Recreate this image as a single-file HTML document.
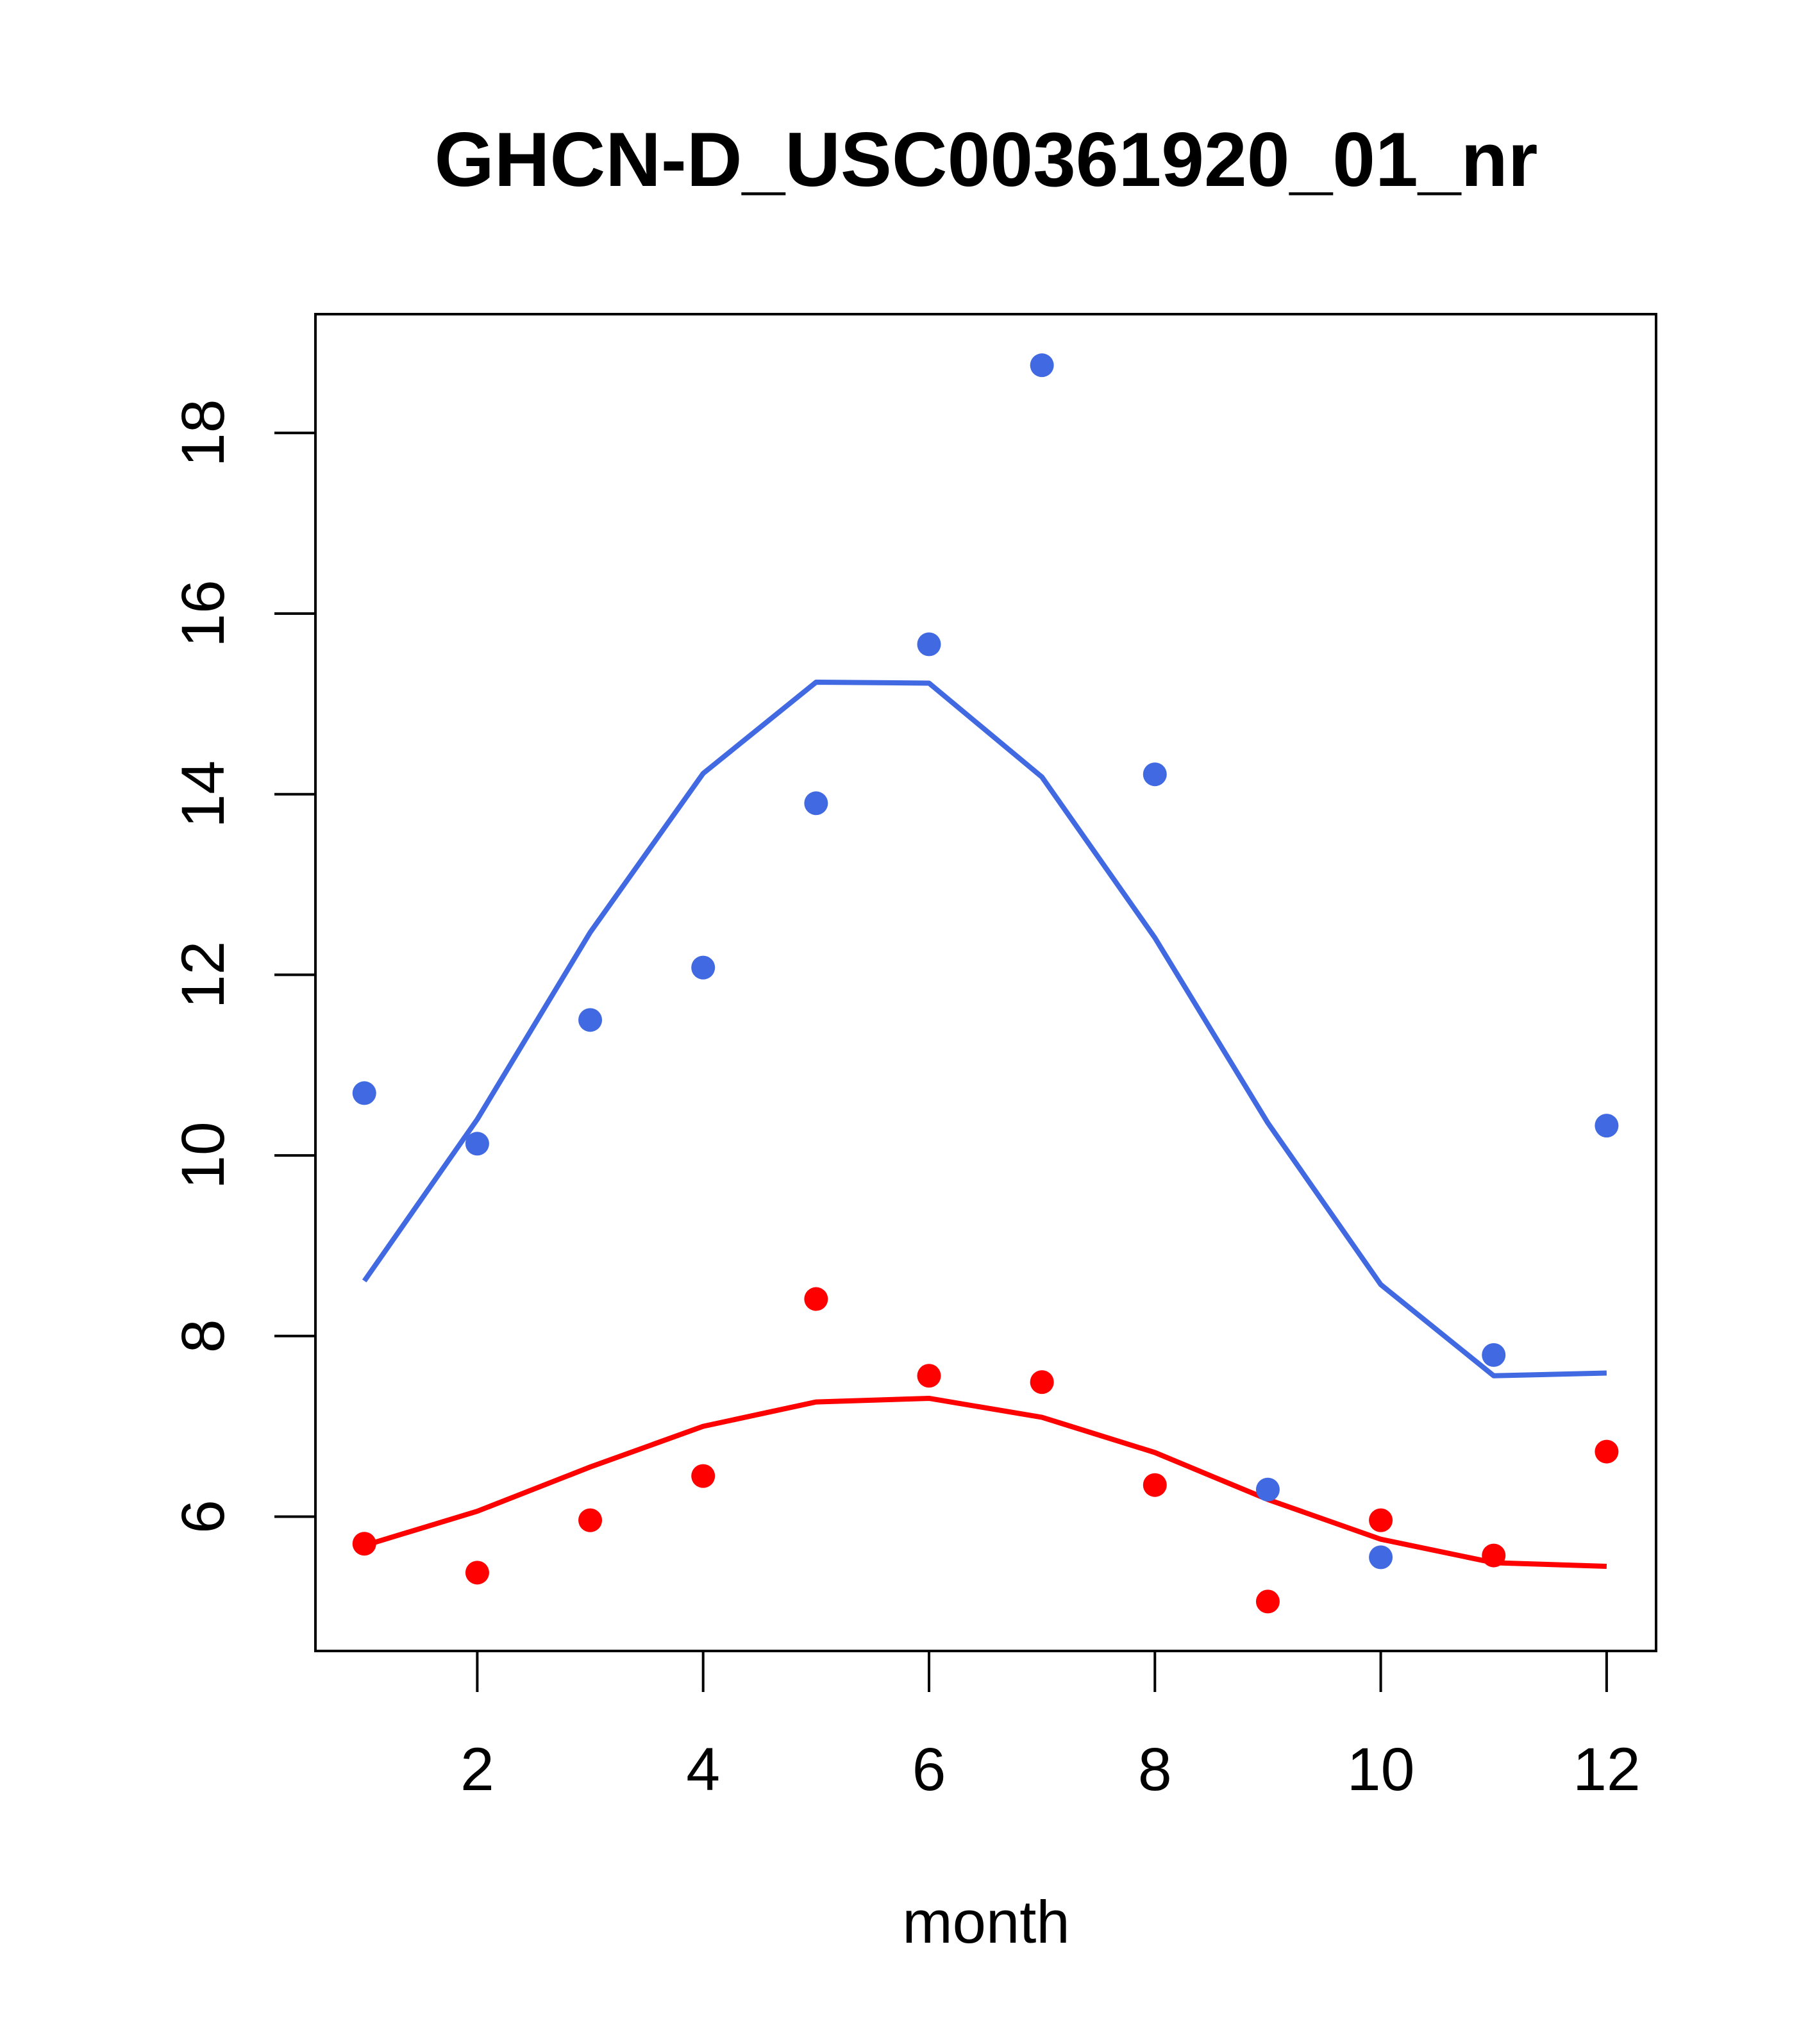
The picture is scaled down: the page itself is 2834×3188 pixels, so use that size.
<!DOCTYPE html>
<html><head><meta charset="utf-8"><style>html,body{margin:0;padding:0;background:#fff}svg{display:block}</style></head>
<body>
<svg id="chart" xmlns="http://www.w3.org/2000/svg" width="2834" height="3188" viewBox="0 0 2834 3188" font-family="'Liberation Sans', sans-serif">
<rect width="2834" height="3188" fill="#fff"/>
<text x="1538" y="290" font-size="120" font-weight="bold" text-anchor="middle">GHCN-D_USC00361920_01_nr</text>
<rect x="492" y="490" width="2091" height="2085" fill="none" stroke="#000" stroke-width="4"/>
<text x="1538" y="3030" font-size="94" text-anchor="middle">month</text>
<g id="axes"></g>
<g id="marks"></g>
</svg>
<script>
const months = [1,2,3,4,5,6,7,8,9,10,11,12];
const blueObs = [10.69,10.13,11.5,12.08,13.9,15.66,18.75,14.22,6.3,5.55,7.79,10.33];
const blueFit = [8.61,10.4,12.47,14.23,15.24,15.23,14.19,12.41,10.36,8.57,7.56,7.59];
const redObs = [5.70,5.38,5.96,6.45,8.41,7.56,7.49,6.35,5.06,5.96,5.57,6.72];
const redFit = [5.68,6.06,6.55,7.0,7.27,7.31,7.1,6.71,6.19,5.75,5.49,5.45];
const xTicks = [2,4,6,8,10,12];
const yTicks = [6,8,10,12,14,16,18];

const NS = 'http://www.w3.org/2000/svg';
function xs(v){return 744.4 + (v-2)*176.15;}
function ys(v){return 2365.5 - (v-6)*140.85;}
function mk(tag, attrs, parent){const e=document.createElementNS(NS,tag);for(const k in attrs)e.setAttribute(k,attrs[k]);parent.appendChild(e);return e;}
const axes=document.getElementById('axes'), marks=document.getElementById('marks');

mk('line',{x1:xs(2),x2:xs(12),y1:2575,y2:2575,stroke:'#000','stroke-width':4},axes);
xTicks.forEach(t=>{
  const l=mk('line',{x1:xs(t),x2:xs(t),y1:2575,y2:2639,stroke:'#000','stroke-width':4},axes);
  
  
  const tx=mk('text',{x:xs(t),y:2792,'font-size':95,'text-anchor':'middle'},axes);
  tx.textContent=t;
  
  
});
yTicks.forEach(t=>{
  const l=mk('line',{x1:492,x2:428,y1:ys(t),y2:ys(t),stroke:'#000','stroke-width':4},axes);
  
  
  const tx=mk('text',{x:0,y:0,'font-size':95,'text-anchor':'middle',transform:`translate(349,${ys(t)}) rotate(-90)`},axes);
  tx.textContent=t;
  
  
});

function line(data,color,name){
  const p=mk('polyline',{points:data.map((v,i)=>xs(months[i])+','+ys(v)).join(' '),fill:'none',stroke:color,'stroke-width':8,'stroke-linejoin':'round'},marks);
  
  
}
function pts(data,color,name){
  data.forEach((v,i)=>{
    const c=mk('circle',{cx:xs(months[i]),cy:ys(v),r:18.5,fill:color},marks);
    
    
  });
}
line(blueFit,'#4169E1','blue-fit-line');
line(redFit,'#FF0000','red-fit-line');
pts(blueObs,'#4169E1','blue-point');
pts(redObs,'#FF0000','red-point');
</script>
</body></html>
